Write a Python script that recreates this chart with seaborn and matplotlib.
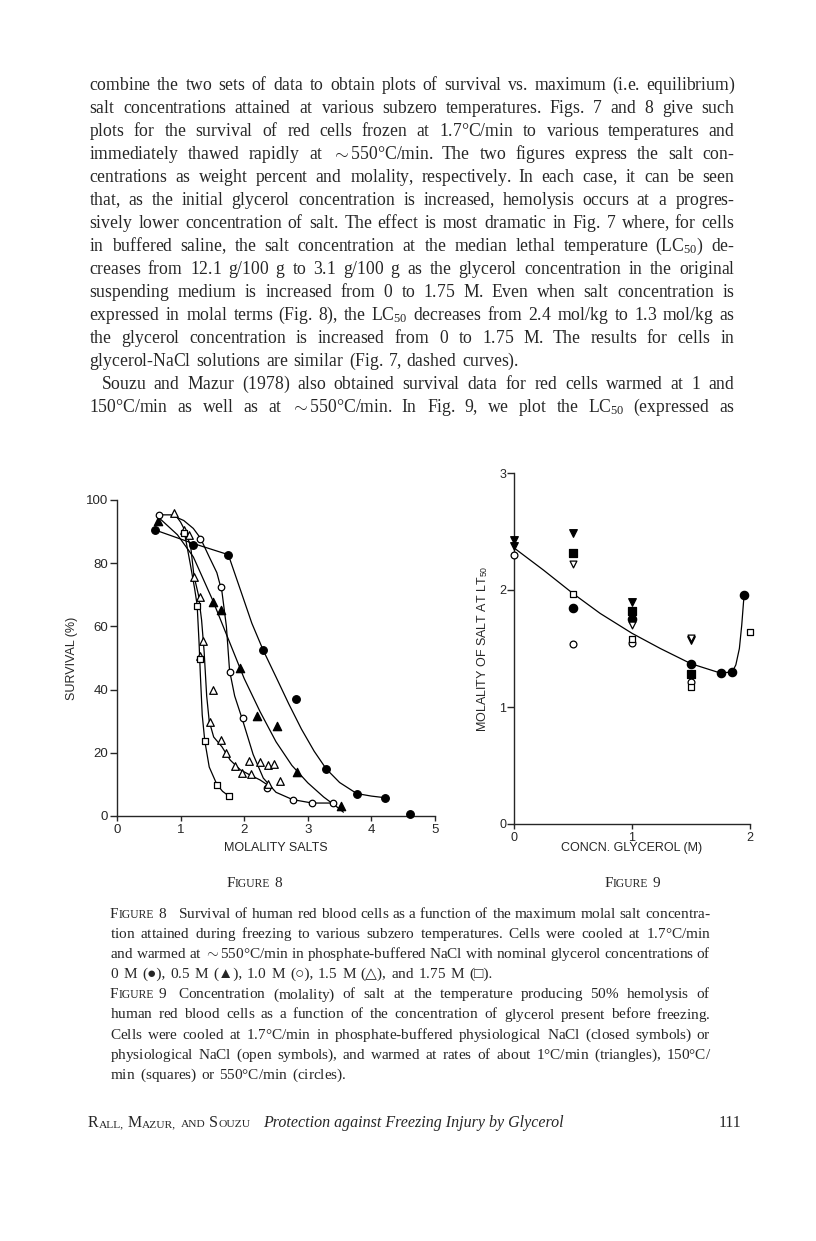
import numpy as np
import matplotlib
matplotlib.use("Agg")
import matplotlib.pyplot as plt
import matplotlib.transforms as mtrans
import seaborn as sns

# Figure 8: survival (%) vs molality of salts, one series per glycerol conc.
m00_x = [0.60, 1.19, 1.75, 2.30, 2.82, 3.29, 3.77, 4.21, 4.60]
m00_y = [90.5, 85.8, 82.7, 52.4, 36.9, 14.9, 7.1, 5.8, 0.7]
m05_x = [0.65, 1.51, 1.63, 1.94, 2.20, 2.51, 2.83, 3.52]
m05_y = [93.3, 67.8, 65.3, 46.8, 31.8, 28.6, 13.9, 3.1]
m10_x = [0.66, 1.31, 1.64, 1.77, 1.98, 2.36, 2.76, 3.07, 3.39]
m10_y = [95.2, 87.7, 72.4, 45.5, 31.1, 9.0, 5.2, 4.1, 4.2]
m15_x = [0.90, 1.06, 1.13, 1.21, 1.31, 1.36, 1.31, 1.51, 1.46, 1.64,
         1.71, 1.85, 1.96, 2.11, 2.08, 2.25, 2.37, 2.47, 2.37, 2.57]
m15_y = [95.8, 90.5, 88.9, 75.6, 69.2, 55.5, 50.6, 39.9, 29.9, 23.9,
         20.0, 15.9, 13.7, 13.2, 17.5, 17.1, 16.0, 16.6, 10.0, 11.1]
m175_x = [1.05, 1.26, 1.30, 1.38, 1.57, 1.76]
m175_y = [89.6, 66.6, 49.6, 23.8, 9.8, 6.3]

# hand drawn curves
c00_x = [0.60, 1.19, 1.75, 1.95, 2.12, 2.30, 2.50, 2.70, 2.90, 3.10, 3.29, 3.50, 3.77, 4.00, 4.21]
c00_y = [90.5, 86.3, 82.7, 71.0, 61.0, 52.4, 44.0, 35.5, 27.5, 20.5, 14.9, 10.6, 7.1, 6.3, 5.8]
c05_x = [0.68, 0.95, 1.20, 1.50, 1.75, 2.00, 2.25, 2.50, 2.75, 3.00, 3.25, 3.45, 3.56]
c05_y = [94.0, 89.0, 82.0, 68.5, 56.0, 43.5, 33.0, 23.5, 16.0, 10.5, 6.0, 3.0, 1.2]
c10_x = [0.66, 0.85, 1.05, 1.20, 1.31, 1.45, 1.57, 1.65, 1.72, 1.77, 1.85, 1.98, 2.14, 2.30, 2.50, 2.76, 3.07, 3.39]
c10_y = [95.3, 95.3, 93.5, 91.0, 88.0, 82.0, 77.0, 71.0, 60.0, 46.0, 38.0, 30.0, 19.5, 12.0, 7.5, 5.2, 4.1, 4.1]
c15_x = [0.90, 1.00, 1.09, 1.16, 1.21, 1.28, 1.33, 1.37, 1.41, 1.45, 1.52, 1.65, 1.78, 1.94, 2.09, 2.25, 2.37]
c15_y = [95.8, 93.0, 89.5, 85.0, 76.0, 70.0, 62.0, 52.0, 38.0, 30.0, 25.0, 21.9, 17.7, 14.6, 13.0, 11.4, 9.8]
c175_x = [1.06, 1.15, 1.22, 1.26, 1.29, 1.31, 1.34, 1.38, 1.45, 1.57, 1.66, 1.76]
c175_y = [89.7, 80.0, 72.0, 66.8, 55.0, 45.0, 32.0, 23.8, 15.5, 10.0, 7.8, 6.3]

# Figure 9: molality of salt at LT50 vs glycerol conc.
fc_x = [0.5, 1.0, 1.5, 1.75, 1.85, 1.95]      # closed circles
fc_y = [1.85, 1.75, 1.37, 1.29, 1.30, 1.96]
oc_x = [0.0, 0.5, 1.0, 1.5]                   # open circles
oc_y = [2.30, 1.54, 1.55, 1.21]
fs_x = [0.5, 1.0, 1.5]                        # closed squares
fs_y = [2.32, 1.82, 1.285]
os_x = [0.5, 1.0, 1.5, 2.0]                   # open squares
os_y = [1.97, 1.585, 1.17, 1.64]
ft_x = [0.0, 0.0, 0.5, 1.0, 1.5]              # closed triangles
ft_y = [2.43, 2.38, 2.49, 1.90, 1.57]
ot_x = [0.5, 1.0, 1.5]                        # open triangles
ot_y = [2.22, 1.70, 1.59]
c9_x = [0.0, 0.25, 0.5, 0.73, 1.0, 1.24, 1.5, 1.75, 1.85, 1.88, 1.91, 1.93, 1.95]
c9_y = [2.36, 2.17, 1.97, 1.80, 1.63, 1.50, 1.37, 1.29, 1.30, 1.36, 1.50, 1.70, 1.96]

body = [
    "combine the two sets of data to obtain plots of survival vs. maximum (i.e. equilibrium)",
    "salt concentrations attained at various subzero temperatures. Figs. 7 and 8 give such",
    "plots for the survival of red cells frozen at 1.7°C/min to various temperatures and",
    r"immediately thawed rapidly at $\sim$550°C/min. The two figures express the salt con-",
    "centrations as weight percent and molality, respectively. In each case, it can be seen",
    "that, as the initial glycerol concentration is increased, hemolysis occurs at a progres-",
    "sively lower concentration of salt. The effect is most dramatic in Fig. 7 where, for cells",
    r"in buffered saline, the salt concentration at the median lethal temperature (LC$_{\mathrm{50}}$) de-",
    "creases from 12.1 g/100 g to 3.1 g/100 g as the glycerol concentration in the original",
    "suspending medium is increased from 0 to 1.75 M. Even when salt concentration is",
    r"expressed in molal terms (Fig. 8), the LC$_{\mathrm{50}}$ decreases from 2.4 mol/kg to 1.3 mol/kg as",
    "the glycerol concentration is increased from 0 to 1.75 M. The results for cells in",
    "glycerol-NaCl solutions are similar (Fig. 7, dashed curves).",
    "Souzu and Mazur (1978) also obtained survival data for red cells warmed at 1 and",
    r"150°C/min as well as at $\sim$550°C/min. In Fig. 9, we plot the LC$_{\mathrm{50}}$ (expressed as",
]
caption = [
    "Survival of human red blood cells as a function of the maximum molal salt concentra-",
    "tion attained during freezing to various subzero temperatures. Cells were cooled at 1.7°C/min",
    r"and warmed at $\sim$550°C/min in phosphate-buffered NaCl with nominal glycerol concentrations of",
    "0 M (●), 0.5 M (▲), 1.0 M (○), 1.5 M (△), and 1.75 M (□).",
    "Concentration (molality) of salt at the temperature producing 50% hemolysis of",
    "human red blood cells as a function of the concentration of glycerol present before freezing.",
    "Cells were cooled at 1.7°C/min in phosphate-buffered physiological NaCl (closed symbols) or",
    "physiological NaCl (open symbols), and warmed at rates of about 1°C/min (triangles), 150°C/",
    "min (squares) or 550°C/min (circles).",
]

sns.set_theme(style="ticks", rc={"axes.linewidth": 1.0, "xtick.major.width": 1.0,
                                 "ytick.major.width": 1.0})
plt.rcParams["font.family"] = ["Liberation Sans", "DejaVu Sans"]
plt.rcParams["mathtext.fontset"] = "custom"
plt.rcParams["mathtext.rm"] = "Liberation Serif"
plt.rcParams["mathtext.it"] = "Liberation Serif:italic"
plt.rcParams["mathtext.sf"] = "Liberation Sans"

W, H = 816, 1241
fig = plt.figure(figsize=(W / 100, H / 100), dpi=100)
fig.patch.set_facecolor("white")
ident = mtrans.IdentityTransform()
renderer = fig.canvas.get_renderer()
SPECIAL = set("●▲○△□")


def tokens(line, sc=0.76):
    out = []
    for w in line.split():
        if w.startswith("^^"):
            out.append([(w[2:], sc)])
        elif w.startswith("^"):
            out.append([(w[1], 1.0), (w[2:], sc)])
        else:
            out.append([(w, 1.0)])
    return out


def set_line(line, x0, x1, yb, size, justify=True, align="left", sc=0.76):
    words = tokens(line, sc)
    arts, widths = [], []
    for w in words:
        segs = []
        plain = len(w) > 1 or w[0][1] != 1.0      # small caps pieces
        for txt, k in w:
            if SPECIAL & set(txt):
                fam = ["Liberation Serif", "DejaVu Sans"]
            else:
                fam = "Liberation Serif"
                if "$" not in txt and not plain:
                    # run plain words through mathtext too, keeps every baseline level
                    txt = txt + "${}$"
            t = fig.text(0, H - yb, txt, fontsize=size * k, family=fam,
                         va="baseline", ha="left", transform=ident)
            segs.append((t, t.get_window_extent(renderer).width))
        arts.append(segs)
        widths.append(sum(s[1] for s in segs))
    if justify and len(words) > 1:
        gap = (x1 - x0 - sum(widths)) / (len(words) - 1)
    else:
        gap = 0.26 * size * 100 / 72
    total = sum(widths) + gap * (len(words) - 1)
    x = x0 - total / 2 if align == "center" else x0
    for segs in arts:
        for t, w in segs:
            t.set_x(x)
            x += w
        x += gap
    return x - gap


# body text
for i, line in enumerate(body):
    x0 = 101 if i == 13 else 89
    set_line(line, x0, 735, 90 + 23 * i, 12.7, justify=(i != 12))

# figure labels
set_line("^FIGURE 8", 255, 0, 887, 11, justify=False, align="center")
set_line("^FIGURE 9", 633, 0, 887, 11, justify=False, align="center")

# captions
for i, line in enumerate(caption):
    yb = 918 + 20.1 * i
    x0 = 110
    if i in (0, 4):
        x0 = set_line("^FIGURE " + ("8" if i == 0 else "9"), 110, 0, yb, 11, justify=False) + 11
    set_line(line, x0, 711, yb, 11, justify=(i not in (3, 8)))

# running footer
end = set_line("^RALL, ^MAZUR, ^^AND ^SOUZU", 88, 0, 1127, 11.5, justify=False, sc=0.72)
fig.text(end + 13, H - 1127, "Protection against Freezing Injury by Glycerol", fontsize=11.5,
         family="Liberation Serif", style="italic", va="baseline", transform=ident)
fig.text(741, H - 1127, "111", fontsize=11.5, family="Liberation Serif", ha="right",
         va="baseline", transform=ident)


def pts(ax, x, y, marker, filled, s):
    sns.scatterplot(x=x, y=y, ax=ax, marker=marker, s=s, color="black",
                    facecolor="black" if filled else "white", edgecolor="black",
                    linewidth=0.9, clip_on=False, zorder=3, legend=False)


def curve(ax, x, y):
    sns.lineplot(x=x, y=y, ax=ax, sort=False, estimator=None, color="black",
                 lw=0.9, clip_on=False, zorder=2)


# ---- Figure 8 ----
ax8 = fig.add_axes([117 / W, 1 - 816 / H, 318 / W, 316 / H])
for cx, cy in [(c00_x, c00_y), (c05_x, c05_y), (c10_x, c10_y), (c15_x, c15_y), (c175_x, c175_y)]:
    curve(ax8, cx, cy)
pts(ax8, m00_x, m00_y, "o", True, 30)
pts(ax8, m05_x, m05_y, "^", True, 36)
pts(ax8, m10_x, m10_y, "o", False, 22)
pts(ax8, m15_x, m15_y, "^", False, 30)
pts(ax8, m175_x, m175_y, "s", False, 22)
ax8.set_xlim(0, 5)
ax8.set_ylim(0, 100)
ax8.set_xticks([0, 1, 2, 3, 4, 5])
ax8.set_yticks([0, 20, 40, 60, 80, 100])
ax8.tick_params(axis="x", length=3.5, pad=2, labelsize=9.5)
ax8.tick_params(axis="y", length=5, pad=1.5, labelsize=9.5)
ax8.set_xlabel("MOLALITY SALTS", fontsize=9, va="center")
ax8.set_ylabel("SURVIVAL (%)", fontsize=9, va="center")
ax8.xaxis.set_label_coords(0.5, -0.101)
ax8.yaxis.set_label_coords(-0.1415, 0.5)
sns.despine(ax=ax8)

# ---- Figure 9 ----
ax9 = fig.add_axes([514 / W, 1 - 824 / H, 236 / W, 351 / H])
curve(ax9, c9_x, c9_y)
pts(ax9, fc_x, fc_y, "o", True, 36)
pts(ax9, oc_x, oc_y, "o", False, 24)
pts(ax9, fs_x, fs_y, "s", True, 26)
pts(ax9, os_x, os_y, "s", False, 24)
pts(ax9, ft_x, ft_y, "v", True, 30)
pts(ax9, ot_x, ot_y, "v", False, 24)
ax9.set_xlim(0, 2)
ax9.set_ylim(0, 3)
ax9.set_xticks([0, 1, 2])
ax9.set_yticks([0, 1, 2, 3])
ax9.tick_params(axis="x", length=3.5, pad=2, labelsize=9)
ax9.tick_params(axis="y", length=5, pad=0.5, labelsize=9)
ax9.set_xlabel("CONCN. GLYCEROL (M)", fontsize=9, va="center")
ax9.set_ylabel(r"MOLALITY OF SALT AT LT$_{\mathsf{50}}$", fontsize=9, va="center")
ax9.xaxis.set_label_coords(0.5, -0.068)
ax9.yaxis.set_label_coords(-0.135, 0.5)
sns.despine(ax=ax9)

fig.savefig("out.png", dpi=100, facecolor="white")
